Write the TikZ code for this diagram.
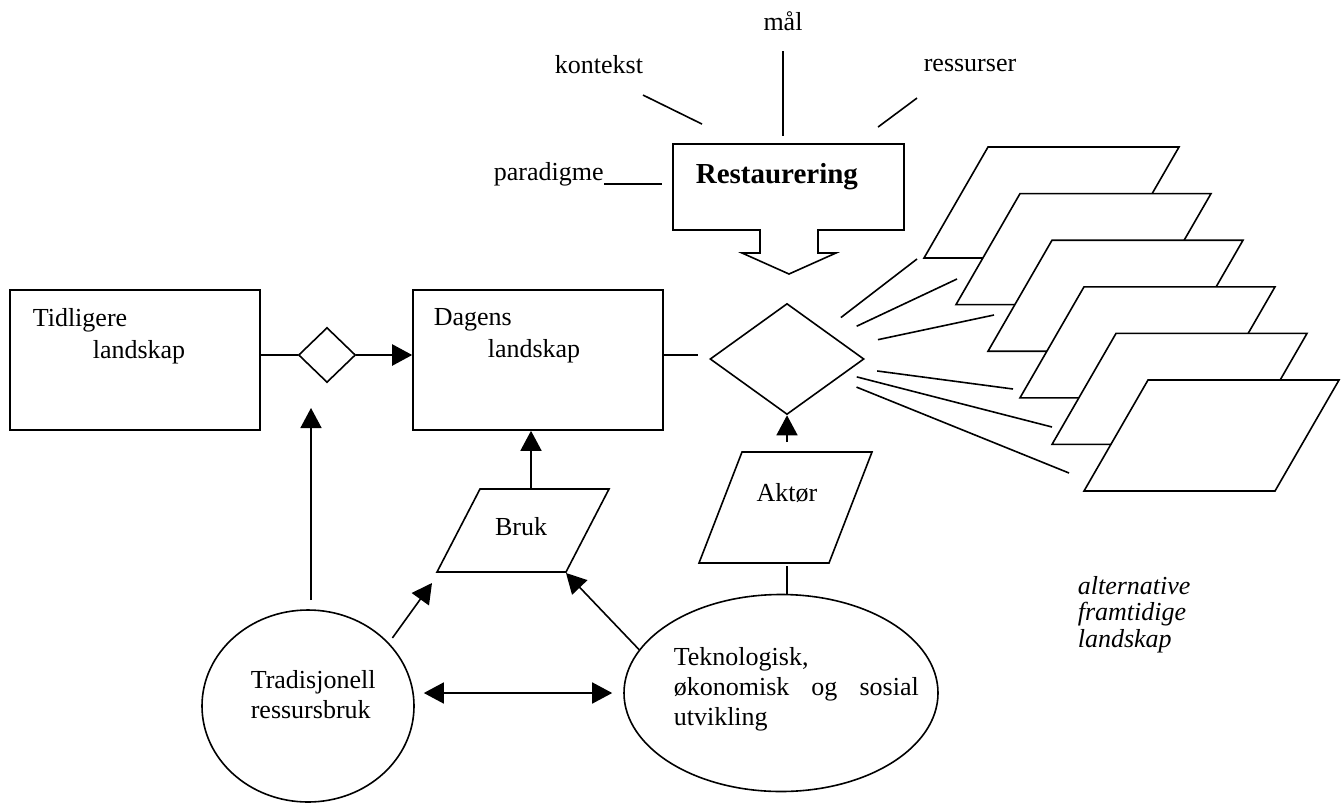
\documentclass[tikz,border=0pt]{standalone}
\usepackage{fontspec}
\setmainfont{Liberation Serif}
\usetikzlibrary{arrows.meta,calc,shapes.geometric}

\begin{document}
\begin{tikzpicture}[
    x=0.5pt,y=-0.5pt,
    line width=0.8pt,
    font=\fontsize{13}{15}\selectfont,
    box/.style={draw,rectangle,minimum width=125pt,minimum height=70pt,inner sep=0pt},
    choice/.style={draw,diamond,inner sep=0pt},
    blob/.style={draw,ellipse,inner sep=0pt},
    txt/.style={inner sep=0pt,anchor=base west},
    arr/.style={-{Triangle[length=10pt,width=10.5pt]}},
    arrs/.style={{Triangle[length=10pt,width=10.5pt]}-{Triangle[length=10pt,width=10.5pt]}}
    ]
    \useasboundingbox (0,0) rectangle (1342,803);

    % landscapes
    \node (tid) [box] at (135,360) {};
    \node (dag) [box] at (538,360) {};
    \node (tid1) [txt] at (32,326) {Tidligere};
    \node (tid2) [txt] at (92,358) {landskap};
    \node (dag1) [txt] at (433,325) {Dagens};
    \node (dag2) [txt] at (487,357) {landskap};
    \node (dia1) [choice,minimum width=28.5pt,minimum height=27.5pt] at (327,355) {};
    \node (dia2) [choice,minimum width=77pt,minimum height=55.5pt] at (787,359) {};

    % restaurering
    \draw (673,144) -- (904,144) -- (904,230) -- (818,230) -- (818,253) -- (836,253)
      -- (789,274) -- (742,253) -- (760,253) -- (760,230) -- (673,230) -- cycle;
    \node (rest) [txt,font=\fontsize{14.5}{17}\selectfont\bfseries] at (695,183) {Restaurering};
    \node (maal) [inner sep=0pt,anchor=base] at (783,31) {mål};
    \node (kont) [inner sep=0pt,anchor=base] at (599,73) {kontekst};
    \node (ress) [txt] at (923,71) {ressurser};
    \node (para) [txt] at (493,180) {paradigme};
    \draw (maal.south) ++(0,19) -- ++(0,85);
    \draw (kont.south) ++(44,21) -- ++(59,29);
    \draw (ress.south west) ++(-6,26) -- ++(-39,29);
    \draw (para.base east) ++(0,4) -- ++(58,0);

    % bruk and aktor
    \coordinate (brukN) at (531,489);
    \coordinate (brukSW) at (437,572);
    \coordinate (brukSE) at (566,572);
    \draw (brukSW) -- ++(43,-83) -- ++(129,0) -- (brukSE) -- cycle;
    \node (bruk) [inner sep=0pt,anchor=base] at (521,535) {Bruk};
    \coordinate (aktN) at (787,452);
    \coordinate (aktS) at (787,563);
    \draw (699,563) -- (742,452) -- (872,452) -- (829,563) -- cycle;
    \node (akt) [inner sep=0pt,anchor=base] at (787,501) {Aktør};

    % drivers
    \node (trad) [blob,minimum width=106pt,minimum height=96pt] at (308,706) {};
    \node (tek) [blob,minimum width=157pt,minimum height=98.5pt] at (781,693) {};
    \node (tradtxt) [txt,align=left] at (250,718) {Tradisjonell\\ressursbruk};
    \node (tektxt) [txt,align=left] at (673,725)
      {Teknologisk,\\\makebox[122.5pt][s]{økonomisk og sosial}\\utvikling};

    % alternative futures
    \coordinate (fan1) at (917,259);
    \coordinate (fan2) at (957,279);
    \coordinate (fan3) at (994,315);
    \coordinate (fan4) at (1013,389);
    \coordinate (fan5) at (1052,427);
    \coordinate (fan6) at (1069,473);
    \foreach \f/\g in {1/34pt,2/38.5pt,3/46.5pt,4/45.5pt,5/36pt,6/37.5pt}
      \draw[shorten <=\g] (dia2.center) -- (fan\f);
    \foreach \i in {0,...,5}
      \draw[fill=white] ($(988,147)+\i*(32,46.6)$) -- ++(191,0) -- ++(-64,111) -- ++(-191,0) -- cycle;
    \node (alt) [txt,align=left,font=\fontsize{13}{13.25}\selectfont\itshape] at (1077,647)
      {alternative\\framtidige\\landskap};

    % connectors
    \draw[line width=1.1pt] (tid.east |- dia1.west) -- (dia1.west);
    \draw[arr,line width=1.1pt] (dia1.east) -- (dia1.east -| dag.west);
    \draw[shorten >=5.5pt] (dag.east |- dia1.east) -- (dia1.east -| dia2.west);
    \draw[arr,shorten <=5pt] (aktN) -- (dia2.south);
    \draw[shorten <=1.5pt] (aktS) -- (aktS |- tek.north);
    \draw[arr] (brukN) -- (brukN |- dag.south);
    \coordinate (tradtip) at (311,408);
    \draw[arr] ([xshift=1.5pt,yshift=4.5pt]trad.north) -- (tradtip);
    \draw[arr,shorten <=3pt] (trad.38) -- ([shift={(-5,11)}]brukSW);
    \draw[arr] (tek.163) -- ([shift={(0,1)}]brukSE);
    \draw[arrs,shorten <=4.5pt,shorten >=5.5pt] (tek.west -| trad.east) -- (tek.west);

\end{tikzpicture}
\end{document}
